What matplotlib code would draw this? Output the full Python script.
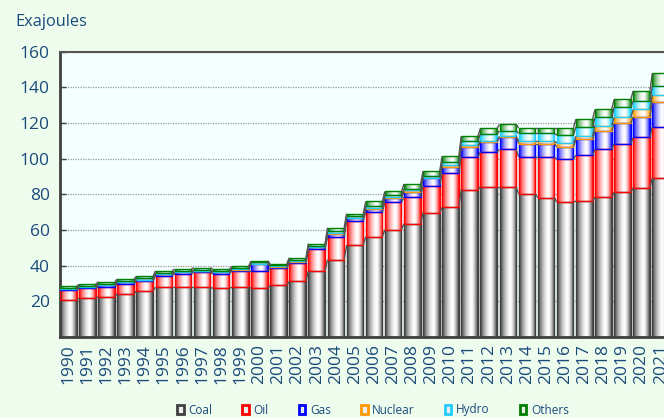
import numpy as np
import matplotlib
matplotlib.use("Agg")
import matplotlib.pyplot as plt
from matplotlib.patches import Patch

years = [str(y) for y in range(1990, 2022)]

coal = [20.9, 21.8, 22.6, 24.3, 25.7, 28.0, 28.0, 28.0, 27.2, 28.0,
        27.4, 28.9, 31.3, 37.0, 43.4, 51.6, 56.3, 60.2, 63.6, 69.8,
        72.9, 82.7, 84.2, 84.2, 80.4, 78.2, 75.6, 76.3, 78.5, 81.2,
        83.8, 89.4]
oil = [5.2, 5.4, 5.6, 5.6, 5.6, 6.4, 7.5, 8.2, 8.3, 9.0,
       9.6, 9.8, 10.2, 12.3, 12.7, 13.7, 13.6, 15.4, 14.9, 15.1,
       18.8, 18.3, 19.6, 21.0, 20.6, 22.8, 24.1, 25.7, 26.7, 27.3,
       28.1, 28.5]
gas = [0.7, 0.6, 0.7, 0.7, 0.7, 0.7, 0.7, 0.7, 0.7, 0.8,
       4.1, 0.8, 0.8, 1.0, 1.5, 1.3, 2.1, 2.2, 2.8, 4.1,
       3.7, 5.3, 5.6, 6.7, 7.5, 7.5, 6.9, 8.8, 10.4, 11.3,
       11.6, 14.0]
nuclear = [0.0, 0.0, 0.0, 0.0, 0.1, 0.1, 0.1, 0.1, 0.1, 0.1,
           0.1, 0.1, 0.2, 0.2, 0.5, 0.3, 0.5, 0.6, 0.9, 0.4,
           0.9, 1.1, 0.6, 0.6, 1.5, 1.5, 2.1, 1.8, 3.0, 3.3,
           4.1, 3.8]
hydro = [0.8, 0.7, 0.9, 0.8, 0.8, 0.9, 0.8, 0.8, 0.8, 0.7,
         0.7, 0.7, 0.9, 0.8, 1.3, 0.8, 1.1, 1.1, 1.0, 1.0,
         1.9, 2.6, 3.8, 3.1, 4.2, 4.2, 4.5, 5.3, 4.5, 5.7,
         4.9, 5.0]
others = [1.0, 1.0, 1.2, 1.1, 1.1, 1.1, 1.0, 1.1, 1.0, 1.0,
          0.8, 0.8, 1.1, 1.1, 1.9, 1.5, 2.4, 2.1, 2.6, 2.7,
          3.2, 2.6, 3.2, 3.6, 3.1, 3.1, 4.1, 4.3, 4.5, 4.5,
          5.6, 7.2]

series_names = ["Coal", "Oil", "Gas", "Nuclear", "Hydro", "Others"]
series_vals = [coal, oil, gas, nuclear, hydro, others]
base_colors = [(0.22, 0.22, 0.22), (1.0, 0.0, 0.0), (0.0, 0.0, 1.0),
               (1.0, 0.6, 0.0), (0.0, 0.8, 1.0), (0.0, 0.5, 0.0)]
edge_colors = ["#404040", "#ff0000", "#0000ff", "#ff9900", "#22ccff", "#008000"]

text_col = "#1b4a7a"
fig_bg = "#eefcee"
ax_bg = "#f4ffff"

plt.rcParams['font.family'] = ['Open Sans', 'DejaVu Sans']

fig = plt.figure(figsize=(6.64, 4.18), dpi=100, facecolor=fig_bg)
W, H = 664, 418
ax_left, ax_top, ax_bottom = 59.5, 51.7, 337.0
unit = 19.11
xmin, xmax = -0.46, 32.6
ax_w = (xmax - xmin) * unit
ax = fig.add_axes([ax_left / W, (H - ax_bottom) / H, ax_w / W, (ax_bottom - ax_top) / H])
ax.set_facecolor(ax_bg)

x = np.arange(len(years))
width = 0.87

def gradient(base):
    t = np.linspace(0, 1, 80)
    c = 0.62
    d = np.where(t < c, (c - t) / c, (t - c) / (1 - c))
    w = 1 - np.abs(d) ** 1.6
    w = np.clip(0.02 + 0.98 * w, 0, 1)
    b = np.array(base)
    return (b[None, :] * (1 - w[:, None]) + w[:, None] * 1.0)[None, :, :]

bottom = np.zeros(len(years))
levels = []
for name, vals, bc, ec in zip(series_names, series_vals, base_colors, edge_colors):
    vals = np.array(vals)
    bars = ax.bar(x, vals, width=width, bottom=bottom, facecolor='none',
                  edgecolor=ec, linewidth=1.0, zorder=3)
    g = gradient(bc)
    for p, v in zip(bars.patches, vals):
        if v <= 0:
            p.set_visible(False)
            continue
        x0, y0 = p.get_x(), p.get_y()
        im = ax.imshow(g, extent=[x0, x0 + p.get_width(), y0, y0 + p.get_height()],
                       aspect='auto', interpolation='bilinear', zorder=2)
        im.set_clip_path(p)
    bottom = bottom + vals
    levels.append(bottom.copy())

# series lines connecting stacked tops
for lev in levels:
    for i in range(len(x) - 1):
        ax.plot([x[i] + width / 2, x[i + 1] - width / 2], [lev[i], lev[i + 1]],
                color="#555555", lw=1.0, zorder=4, solid_capstyle='butt')

ax.set_xlim(xmin, xmax)
ax.set_ylim(0, 160)
ax.set_yticks(range(20, 161, 20))
ax.yaxis.grid(True, color="#999999", linestyle=(0, (1, 1)), linewidth=0.9, zorder=1)
ax.set_axisbelow(True)
ax.tick_params(axis='y', direction='in', length=4, width=1, color="#404040",
               labelsize=12.5, labelcolor=text_col, pad=7)
ax.set_xticks(x)
ax.set_xticklabels(years, rotation=90, fontsize=12.5, color=text_col)
ax.tick_params(axis='x', length=0, pad=5)
for s in ['left', 'bottom']:
    ax.spines[s].set_color("#404040")
    ax.spines[s].set_linewidth(2)
ax.spines['top'].set_color("#555555")
ax.spines['top'].set_linewidth(1.5)
ax.spines['right'].set_visible(False)

fig.text(15 / W, 1 - 22 / H, "Exajoules", fontsize=11.8, color=text_col,
         ha='left', va='center')

handles = [Patch(facecolor=(0.93, 0.93, 0.93), edgecolor=ec, linewidth=2.0)
           for ec in edge_colors]
leg = fig.legend(handles, series_names, loc='center', ncol=6,
                 bbox_to_anchor=(373 / W, 1 - 410 / H), frameon=False,
                 fontsize=8.5, handlelength=0.55, handleheight=0.9,
                 handletextpad=0.4, columnspacing=2.55, labelcolor=text_col)

fig.savefig("out.png", dpi=100, facecolor=fig_bg)
